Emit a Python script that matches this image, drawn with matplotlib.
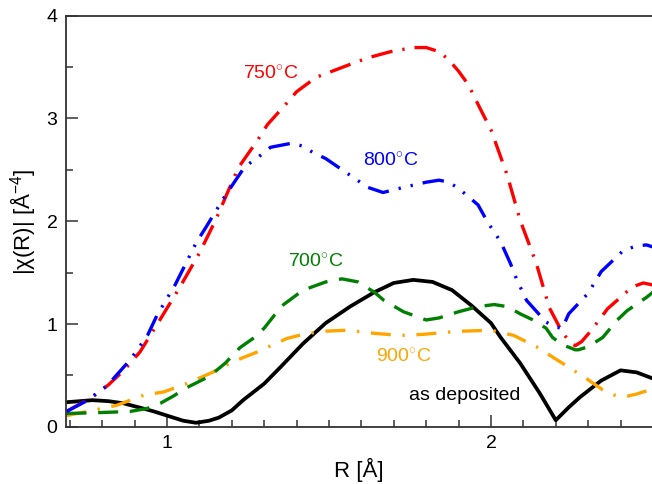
import numpy as np
import matplotlib
matplotlib.use('Agg')
import matplotlib.pyplot as plt

plt.rcParams['font.family'] = ['Liberation Sans', 'DejaVu Sans']
plt.rcParams['mathtext.fontset'] = 'custom'
plt.rcParams['mathtext.rm'] = 'Liberation Sans'
plt.rcParams['mathtext.it'] = 'Liberation Sans:italic'

# as deposited
r_dep = [0.69, 0.73, 0.77, 0.82, 0.865, 0.925, 0.96, 1.0, 1.05, 1.09, 1.13, 1.16, 1.20,
         1.235, 1.30, 1.35, 1.42, 1.49, 1.565, 1.64, 1.70, 1.76, 1.82, 1.88, 1.94, 2.0,
         2.03, 2.09, 2.15, 2.20, 2.24, 2.275, 2.34, 2.40, 2.45, 2.50]
chi_dep = [0.24, 0.25, 0.26, 0.25, 0.23, 0.18, 0.15, 0.11, 0.06, 0.04, 0.06, 0.09, 0.16,
           0.26, 0.42, 0.58, 0.81, 1.01, 1.17, 1.31, 1.40, 1.43, 1.41, 1.33, 1.18, 1.01,
           0.87, 0.62, 0.33, 0.065, 0.19, 0.29, 0.45, 0.55, 0.53, 0.47]

# 700 C
r_700 = [0.69, 0.80, 0.886, 0.94, 0.98, 1.02, 1.06, 1.13, 1.18, 1.225, 1.27, 1.30, 1.33,
         1.36, 1.42, 1.49, 1.54, 1.59, 1.64, 1.67, 1.73, 1.80, 1.84, 1.90, 1.96, 2.01,
         2.05, 2.09, 2.13, 2.17, 2.19, 2.22, 2.26, 2.27, 2.30, 2.345, 2.39, 2.42, 2.48,
         2.50]
chi_700 = [0.13, 0.14, 0.15, 0.18, 0.23, 0.30, 0.38, 0.49, 0.62, 0.77, 0.87, 0.96, 1.08,
           1.19, 1.33, 1.41, 1.44, 1.41, 1.31, 1.23, 1.12, 1.04, 1.06, 1.12, 1.17, 1.19,
           1.17, 1.10, 1.04, 0.96, 0.87, 0.80, 0.75, 0.75, 0.78, 0.87, 1.04, 1.13, 1.26,
           1.31]

# 750 C
r_750 = [0.69, 0.73, 0.77, 0.82, 0.87, 0.917, 0.978, 1.04, 1.10, 1.15, 1.22, 1.28, 1.31,
         1.37, 1.40, 1.46, 1.51, 1.56, 1.62, 1.69, 1.76, 1.80, 1.84, 1.87, 1.90, 1.93,
         1.966, 2.0, 2.05, 2.09, 2.14, 2.18, 2.22, 2.245, 2.26, 2.28, 2.31, 2.36, 2.40,
         2.435, 2.47, 2.50]
chi_750 = [0.15, 0.22, 0.29, 0.41, 0.56, 0.73, 1.04, 1.36, 1.69, 2.01, 2.52, 2.79, 2.94,
           3.15, 3.26, 3.40, 3.46, 3.52, 3.59, 3.65, 3.69, 3.69, 3.65, 3.57, 3.46, 3.33,
           3.10, 2.89, 2.45, 2.01, 1.59, 1.16, 0.92, 0.82, 0.79, 0.83, 0.94, 1.15, 1.26,
           1.36, 1.40, 1.38]

# 800 C
r_800 = [0.69, 0.75, 0.815, 0.886, 0.94, 0.97, 1.025, 1.09, 1.12, 1.18, 1.24, 1.28, 1.32,
         1.386, 1.42, 1.45, 1.49, 1.555, 1.62, 1.667, 1.73, 1.80, 1.84, 1.87, 1.90, 1.96,
         1.99, 2.03, 2.06, 2.08, 2.11, 2.17, 2.20, 2.22, 2.24, 2.30, 2.34, 2.41, 2.45,
         2.48, 2.50]
chi_800 = [0.15, 0.25, 0.40, 0.65, 0.89, 1.09, 1.38, 1.79, 1.94, 2.25, 2.53, 2.62, 2.72,
           2.76, 2.73, 2.67, 2.61, 2.47, 2.33, 2.28, 2.33, 2.38, 2.40, 2.38, 2.32, 2.16,
           1.99, 1.80, 1.59, 1.43, 1.23, 1.02, 0.97, 0.96, 1.10, 1.30, 1.51, 1.72, 1.76,
           1.77, 1.75]

# 900 C
r_900 = [0.69, 0.77, 0.845, 0.93, 0.99, 1.06, 1.14, 1.20, 1.28, 1.37, 1.42, 1.48, 1.555,
         1.64, 1.72, 1.79, 1.90, 2.0, 2.07, 2.14, 2.22, 2.29, 2.345, 2.38, 2.41, 2.45,
         2.50]
chi_900 = [0.11, 0.16, 0.21, 0.31, 0.34, 0.42, 0.53, 0.63, 0.73, 0.86, 0.90, 0.93, 0.94,
           0.91, 0.89, 0.90, 0.93, 0.94, 0.89, 0.78, 0.62, 0.48, 0.36, 0.31, 0.29, 0.32,
           0.37]

fig = plt.figure(figsize=(6.52, 4.84), dpi=100)
ax = fig.add_axes([0.101, 0.118, 0.899, 0.8496])

lw = 2.4
ax.plot(r_dep, chi_dep, color='black', lw=2.7, solid_joinstyle='round')
ax.plot(r_900, chi_900, color='orange', lw=lw, dashes=(6, 3.5, 0.7, 3.5))
ax.plot(r_700, chi_700, color='green', lw=lw, dashes=(6, 3.5))
ax.plot(r_750, chi_750, color='red', lw=lw, dashes=(6.5, 3, 0.7, 3))
ax.plot(r_800, chi_800, color='blue', lw=lw, dashes=(6.5, 3, 0.7, 3, 0.7, 3))

ax.text(1.32, 3.43, '750$^{\\circ}$C', color='red', fontsize=14, ha='center', va='center')
ax.text(1.69, 2.58, '800$^{\\circ}$C', color='blue', fontsize=14, ha='center', va='center')
ax.text(1.46, 1.60, '700$^{\\circ}$C', color='green', fontsize=14, ha='center', va='center')
ax.text(1.73, 0.68, '900$^{\\circ}$C', color='orange', fontsize=14, ha='center', va='center')
ax.text(1.92, 0.31, 'as deposited', color='black', fontsize=14, ha='center', va='center')

ax.set_xlim(0.688, 2.497)
ax.set_ylim(0, 4)
ax.set_xticks([1, 2])
ax.set_xticks(np.arange(0.7, 2.5, 0.1), minor=True)
ax.set_yticks([0, 1, 2, 3, 4])
ax.set_yticks(np.arange(0.5, 4, 1.0), minor=True)
ax.tick_params(which='major', direction='in', length=8.5, width=1.1, labelsize=14,
               color='#333333', pad=6)
ax.tick_params(which='minor', direction='in', length=5, width=1.1, color='#333333')
ax.spines['right'].set_visible(False)
for s in ['left', 'bottom', 'top']:
    ax.spines[s].set_linewidth(1.3)
    ax.spines[s].set_color('#333333')

ax.set_xlabel('R [Å]', fontsize=16, labelpad=4)
ax.set_ylabel('|χ(R)| [Å$^{-4}$]', fontsize=16, labelpad=6)

plt.savefig('out.png', dpi=100)
plt.close()
